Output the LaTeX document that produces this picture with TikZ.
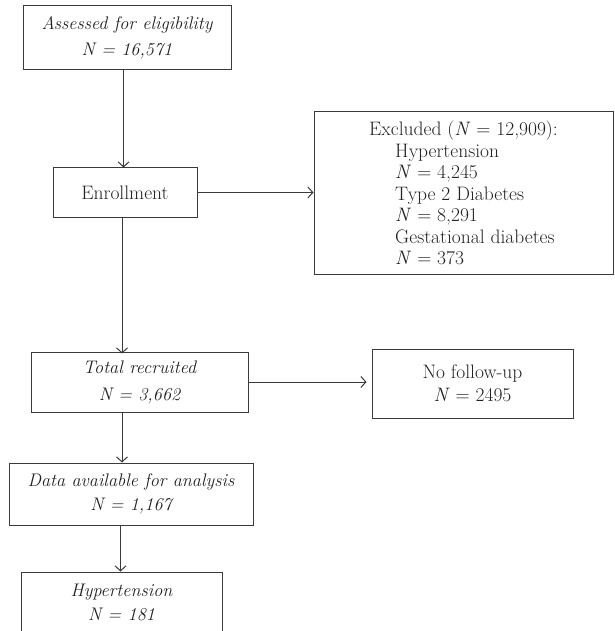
\documentclass[tikz,border=0pt]{standalone}
\usepackage{fontspec}
\usetikzlibrary{arrows.meta}
\definecolor{ln}{HTML}{3A3A3A}
\definecolor{tx}{HTML}{222222}
\tikzset{
  boxit/.style={draw=ln, line width=1pt, inner sep=0pt, align=center, text=tx,
    font=\fontsize{18.2}{26}\selectfont\itshape},
  boxrm/.style={draw=ln, line width=1pt, inner sep=0pt, align=center, text=tx,
    font=\fontsize{19.5}{21.5}\selectfont},
  arr/.style={draw=ln, line width=1pt, -{Straight Barb[length=5pt,width=11pt]}}
}
\begin{document}
\begin{tikzpicture}[x=1pt,y=-1pt]
\useasboundingbox (0,0) rectangle (614,631);
\node[boxit, minimum width=208pt, minimum height=64pt] (assess) at (127,38)
  {Assessed for eligibility\\ N = 16,571};
\node[boxrm, minimum width=144pt, minimum height=49pt] (enroll) at (125,192.5)
  {Enrollment};
\node[boxrm, minimum width=299pt, minimum height=162pt, align=left] (excl) at (463.5,193)
  {Excluded (\textit{N} = 12,909):\\
   \hspace*{26pt}Hypertension\\
   \hspace*{26pt}\textit{N} = 4,245\\
   \hspace*{26pt}Type 2 Diabetes\\
   \hspace*{26pt}\textit{N} = 8,291\\
   \hspace*{26pt}Gestational diabetes\\
   \hspace*{26pt}\textit{N} = 373};
\node[boxit, minimum width=217pt, minimum height=60pt, font=\fontsize{18.2}{27}\selectfont\itshape] (total) at (139.5,382)
  {Total recruited\\ N = 3,662};
\node[boxrm, minimum width=201pt, minimum height=69pt, font=\fontsize{19.5}{23}\selectfont] (nofu) at (472.5,383.5)
  {No follow-up\\ \textit{N} = 2495};
\node[boxit, minimum width=244pt, minimum height=62pt, font=\fontsize{18.2}{24}\selectfont\itshape] (data) at (131,494)
  {Data available for analysis\\ N = 1,167};
\node[boxit, minimum width=201pt, minimum height=60pt, font=\fontsize{18.2}{24}\selectfont\itshape] (hyp) at (121.5,602)
  {Hypertension\\ N = 181};
\coordinate (sa) at (123.5,0);
\coordinate (sb) at (122,0);
\coordinate (sc) at (120.5,0);
\draw[arr] (assess.south -| sa) -- (enroll.north -| sa);
\draw[arr] (enroll.east) -- (excl.west |- enroll.east);
\draw[arr] (enroll.south -| sb) -- ([yshift=-2pt]total.north -| sb);
\draw[arr] (total.east) -- ([xshift=-5pt]nofu.west |- total.east);
\draw[arr] (total.south -| sb) -- (data.north -| sb);
\draw[arr] (data.south -| sc) -- (hyp.north -| sc);
\end{tikzpicture}
\end{document}
